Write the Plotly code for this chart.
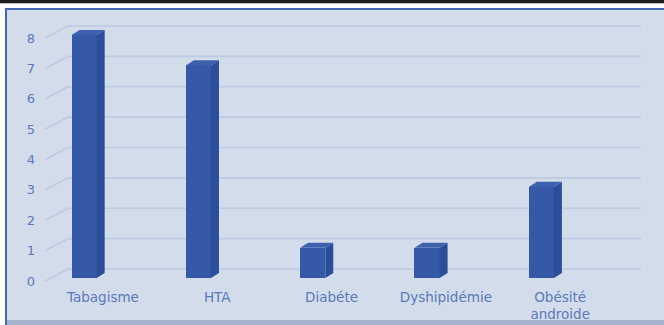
import plotly.graph_objects as go

# Data
categories = ["Tabagisme", "HTA", "Diabéte", "Dyshipidémie", "Obésité<br>androide"]
counts = [8, 7, 1, 1, 3]
y_ticks = [0, 1, 2, 3, 4, 5, 6, 7, 8]

# Styling / geometry
BG = "#d3dcea"
FRONT = "#3559a6"
SIDE = "#2b4e98"
TOP = "#3d62ad"
GRID = "#bccae2"
TXT = "#5a79bb"
FONT = "DejaVu Sans"

W, H = 664, 325
ML, MR, MT, MB = 45, 23, 20, 40
PW, PH = W - ML - MR, H - MT - MB

X_RANGE = [-0.507, 4.707]
Y_RANGE = [-0.23, 8.494]

BAR_W = 0.22        # front face width (x units)
BAR_OFF = -0.275    # left edge relative to category
DX, DY = 0.07, 0.165  # depth of the 3D extrusion
GRID_FRONT_X, GRID_BACK_X = X_RANGE[0], -0.306
GRID_FRONT_DY, GRID_BACK_DY = -0.1, 0.296

xs = list(range(len(categories)))

fig = go.Figure()

# front faces of the bars
fig.add_trace(go.Bar(x=xs, y=counts, width=BAR_W, offset=BAR_OFF,
                     marker=dict(color=FRONT, line=dict(width=0)),
                     showlegend=False))

# side and top faces
for x, v in zip(xs, counts):
    l = x + BAR_OFF
    r = l + BAR_W
    fig.add_trace(go.Scatter(
        x=[r, r, r + DX, r + DX, r], y=[0, v, v + DY, DY, 0],
        fill="toself", fillcolor=SIDE, mode="lines", line=dict(width=0),
        hoverinfo="skip", showlegend=False))
    fig.add_trace(go.Scatter(
        x=[l, l + DX, r + DX, r, l], y=[v, v + DY, v + DY, v, v],
        fill="toself", fillcolor=TOP, mode="lines", line=dict(width=0),
        hoverinfo="skip", showlegend=False))


def px(X):
    return (X - ML) / PW


def py(Y):
    return (H - MB - Y) / PH


# page frame around the chart
frame = [
    (0, 0, W, 3.5, "#1d1d1d"),
    (0, 3.5, W, 8, "#ffffff"),
    (0, 8, W, 10, "#4468b0"),
    (0, 8, 5, H, "#ffffff"),
    (5, 8, 7, H, "#4468b0"),
    (7, 320, W, H, "#a4b3cb"),
]
shapes = []
for x0, y0, x1, y1, c in frame:
    shapes.append(dict(type="rect", xref="paper", yref="paper",
                       x0=px(x0), x1=px(x1), y0=py(y1), y1=py(y0),
                       fillcolor=c, line=dict(width=0), layer="below"))

# perspective gridlines: diagonal wall edge + horizontal back line
for v in y_ticks:
    shapes.append(dict(type="line", xref="x", yref="y", layer="below",
                       x0=GRID_FRONT_X, y0=v + GRID_FRONT_DY,
                       x1=GRID_BACK_X, y1=v + GRID_BACK_DY,
                       line=dict(color=GRID, width=1.6)))
    shapes.append(dict(type="line", xref="x", yref="y", layer="below",
                       x0=GRID_BACK_X, y0=v + GRID_BACK_DY,
                       x1=X_RANGE[1], y1=v + GRID_BACK_DY,
                       line=dict(color=GRID, width=1.6)))

fig.update_layout(
    width=W, height=H,
    margin=dict(l=ML, r=MR, t=MT, b=MB, pad=0, autoexpand=False),
    paper_bgcolor=BG, plot_bgcolor=BG,
    shapes=shapes,
    bargap=0,
    font=dict(family=FONT, color=TXT, size=13),
    xaxis=dict(range=X_RANGE, tickvals=xs, ticktext=categories,
               showgrid=False, zeroline=False, showline=False,
               ticks="", ticklabelstandoff=2, automargin=False,
               tickfont=dict(size=13.5, color=TXT)),
    yaxis=dict(range=Y_RANGE,
               tickvals=[v + GRID_FRONT_DY for v in y_ticks],
               ticktext=[str(v) for v in y_ticks],
               showgrid=False, zeroline=False, showline=False,
               ticks="", ticklabelstandoff=9, automargin=False,
               tickfont=dict(size=13, color=TXT)),
)

fig.write_html("out.html")
